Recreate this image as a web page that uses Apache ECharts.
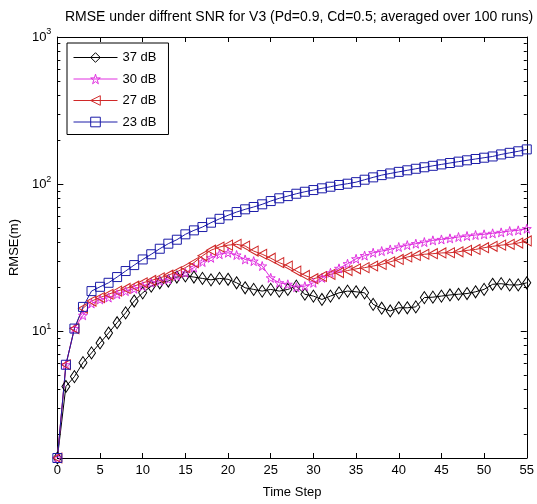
<!DOCTYPE html>
<html>
<head>
<meta charset="utf-8">
<script src="https://cdn.jsdelivr.net/npm/echarts@6/dist/echarts.min.js"></script>
<style>
html,body{margin:0;padding:0;background:#fff;}
#chart{width:537px;height:504px;}
</style>
</head>
<body>
<div id="chart"></div>
<script>
var timeSteps = [];
for (var i = 0; i <= 55; i++) timeSteps.push(i);

var snr37 = [1.37, 4.2, 4.9, 6.1, 7.1, 8.3, 9.7, 11.4, 13.3, 16, 18.2, 20.2, 21.3, 21.9, 23.3, 23.7, 23.3, 22.8, 22.3, 22.8,
  22.5, 21.3, 19.7, 19.2, 18.7, 19.2, 18.7, 19.2, 20.2, 17.8, 17.3, 16.4, 17.3, 18.2, 18.7, 18.5, 18.2, 15.2, 14.3, 13.7,
  14.4, 14.4, 14.6, 16.9, 17, 17.3, 17.6, 17.8, 18, 18.5, 19.2, 20.8, 21, 20.6, 20.6, 21.3];
var snr30 = [1.37, 5.9, 10.4, 12.8, 15.4, 16.4, 16.9, 17.8, 18.7, 19.4, 20.2, 21.3, 21.9, 22.5, 23.7, 24.9, 27, 29.5, 31.5, 33.3,
  34.1, 32.9, 30.7, 29.9, 27.7, 23, 21.3, 20.8, 19.9, 20.2, 21.3, 23, 24.9, 26.7, 28.7, 31, 32.6, 34.1, 35, 35.9,
  37.3, 38.4, 39.3, 40.3, 41.4, 42, 42.7, 43.6, 44.3, 45, 45.5, 46.2, 46.9, 47.9, 48.4, 49.7];
var snr27 = [1.37, 5.9, 10.4, 14.3, 16, 16.9, 17.8, 18.7, 19.5, 20.2, 21.3, 22.1, 23, 24, 25.3, 27, 29.2, 32.5, 35.5, 37.3,
  38.4, 38.9, 37.9, 35, 33.3, 31.3, 29.2, 27.7, 25.6, 23.9, 22.7, 23.5, 24.3, 25, 25.8, 26.5, 27, 27.7, 28.4, 29.6,
  30.7, 31.9, 32.7, 33.3, 33.6, 34, 34.1, 34.6, 35.4, 35.9, 36.9, 37.7, 38.4, 38.9, 39.7, 41];
var snr23 = [1.37, 5.9, 10.4, 14.6, 18.7, 20, 21.3, 23.3, 25.6, 28.1, 30.7, 33.3, 36.3, 39.3, 41.8, 45.5, 48.4, 51, 54.6, 58,
  61.3, 64.5, 67.3, 69.8, 72.8, 76.6, 80, 82.8, 85.9, 88.6, 91, 93.5, 95.9, 98.5, 100.5, 103, 107, 111, 115, 118,
  121, 124, 127, 130, 133, 136, 139, 142, 145, 148, 151, 154, 159, 163, 167, 172];

var seriesNames = ['37 dB', '30 dB', '27 dB', '23 dB'];
var xTicks = [0, 5, 10, 15, 20, 25, 30, 35, 40, 45, 50, 55];
var yRange = [1.37, 1000];

function pairs(vals) {
  return timeSteps.map(function (t, i) { return [t, vals[i]]; });
}

var FONT = 'Liberation Sans';
var STAR = 'path://M50,0 L61,35 L98,35 L68,57 L79,91 L50,70 L21,91 L32,57 L2,35 L39,35 Z';

function logLabel(v) {
  var e = Math.log10(v);
  var r = Math.round(e);
  if (Math.abs(e - r) > 1e-6) return '';
  return '{b|10}{e|' + r + '}';
}

var chart = echarts.init(document.getElementById('chart'), null, {renderer: 'canvas'});

function mkSeries(name, vals, color, symbol, size, rotate) {
  return {
    name: name,
    type: 'line',
    data: pairs(vals),
    symbol: symbol,
    symbolSize: size,
    symbolRotate: rotate || 0,
    showAllSymbol: true,
    clip: false,
    lineStyle: {color: color, width: 1},
    itemStyle: {color: 'rgba(255,255,255,0)', borderColor: color, borderWidth: 1},
    emphasis: {disabled: true},
    animation: false
  };
}

var axisCommon = {
  axisLine: {show: true, onZero: false, lineStyle: {color: '#000', width: 1}},
  splitLine: {show: false}
};

chart.setOption({
  backgroundColor: '#fff',
  animation: false,
  title: {
    text: 'RMSE under diffrent SNR for V3 (Pd=0.9, Cd=0.5; averaged over 100 runs)',
    left: 294,
    textAlign: 'center',
    top: 5,
    textStyle: {fontFamily: FONT, fontSize: 14, fontWeight: 'normal', color: '#000'}
  },
  legend: {
    orient: 'vertical',
    left: 67,
    top: 43,
    data: seriesNames,
    itemWidth: 44,
    itemHeight: 12,
    itemGap: 8.5,
    padding: [8, 12, 6, 6],
    backgroundColor: '#fff',
    borderColor: '#000',
    borderWidth: 1,
    borderRadius: 0,
    itemStyle: {color: 'rgba(255,255,255,0)', borderWidth: 1},
    lineStyle: {width: 1},
    textStyle: {fontFamily: FONT, fontSize: 13, color: '#000'}
  },
  grid: {left: 57, right: 5, top: 37, bottom: 46, containLabel: false},
  xAxis: [
    Object.assign({
      type: 'value', min: 0, max: 55, interval: 5,
      name: 'Time Step', nameLocation: 'middle', nameGap: 28,
      nameTextStyle: {fontFamily: FONT, fontSize: 13, color: '#000'},
      axisTick: {show: true, inside: true, length: 5, lineStyle: {color: '#000'}},
      axisLabel: {fontFamily: FONT, fontSize: 13, color: '#000', margin: 6,
        formatter: function (v) { return xTicks.indexOf(v) >= 0 ? String(v) : ''; }}
    }, axisCommon),
    Object.assign({
      type: 'value', min: 0, max: 55, interval: 5, position: 'top',
      axisTick: {show: true, inside: true, length: 5, lineStyle: {color: '#000'}},
      axisLabel: {show: false}
    }, axisCommon)
  ],
  yAxis: [
    Object.assign({
      type: 'log', logBase: 10, min: yRange[0], max: yRange[1],
      name: 'RMSE(m)', nameLocation: 'middle', nameGap: 28, nameRotate: 90,
      nameTextStyle: {fontFamily: FONT, fontSize: 13, color: '#000'},
      axisTick: {show: true, inside: true, length: 6, lineStyle: {color: '#000'}},
      minorTick: {show: true, splitNumber: 9, length: 3, lineStyle: {color: '#000'}},
      axisLabel: {fontFamily: FONT, fontSize: 13, color: '#000', margin: 6, formatter: logLabel,
        rich: {b: {fontFamily: FONT, fontSize: 13, color: '#000'},
               e: {fontFamily: FONT, fontSize: 9, color: '#000', padding: [0, 0, 10, 0]}}}
    }, axisCommon),
    Object.assign({
      type: 'log', logBase: 10, min: yRange[0], max: yRange[1], position: 'right',
      axisTick: {show: true, inside: true, length: 6, lineStyle: {color: '#000'}},
      minorTick: {show: true, splitNumber: 9, length: 3, lineStyle: {color: '#000'}},
      axisLabel: {show: false}
    }, axisCommon)
  ],
  series: [
    mkSeries(seriesNames[0], snr37, '#000000', 'diamond', [8, 12], 0),
    mkSeries(seriesNames[1], snr30, '#e030e0', STAR, 9, 0),
    mkSeries(seriesNames[2], snr27, '#d02828', 'triangle', [10, 9], 90),
    mkSeries(seriesNames[3], snr23, '#1c1ca8', 'rect', 9, 0)
  ]
});
</script>
</body>
</html>
